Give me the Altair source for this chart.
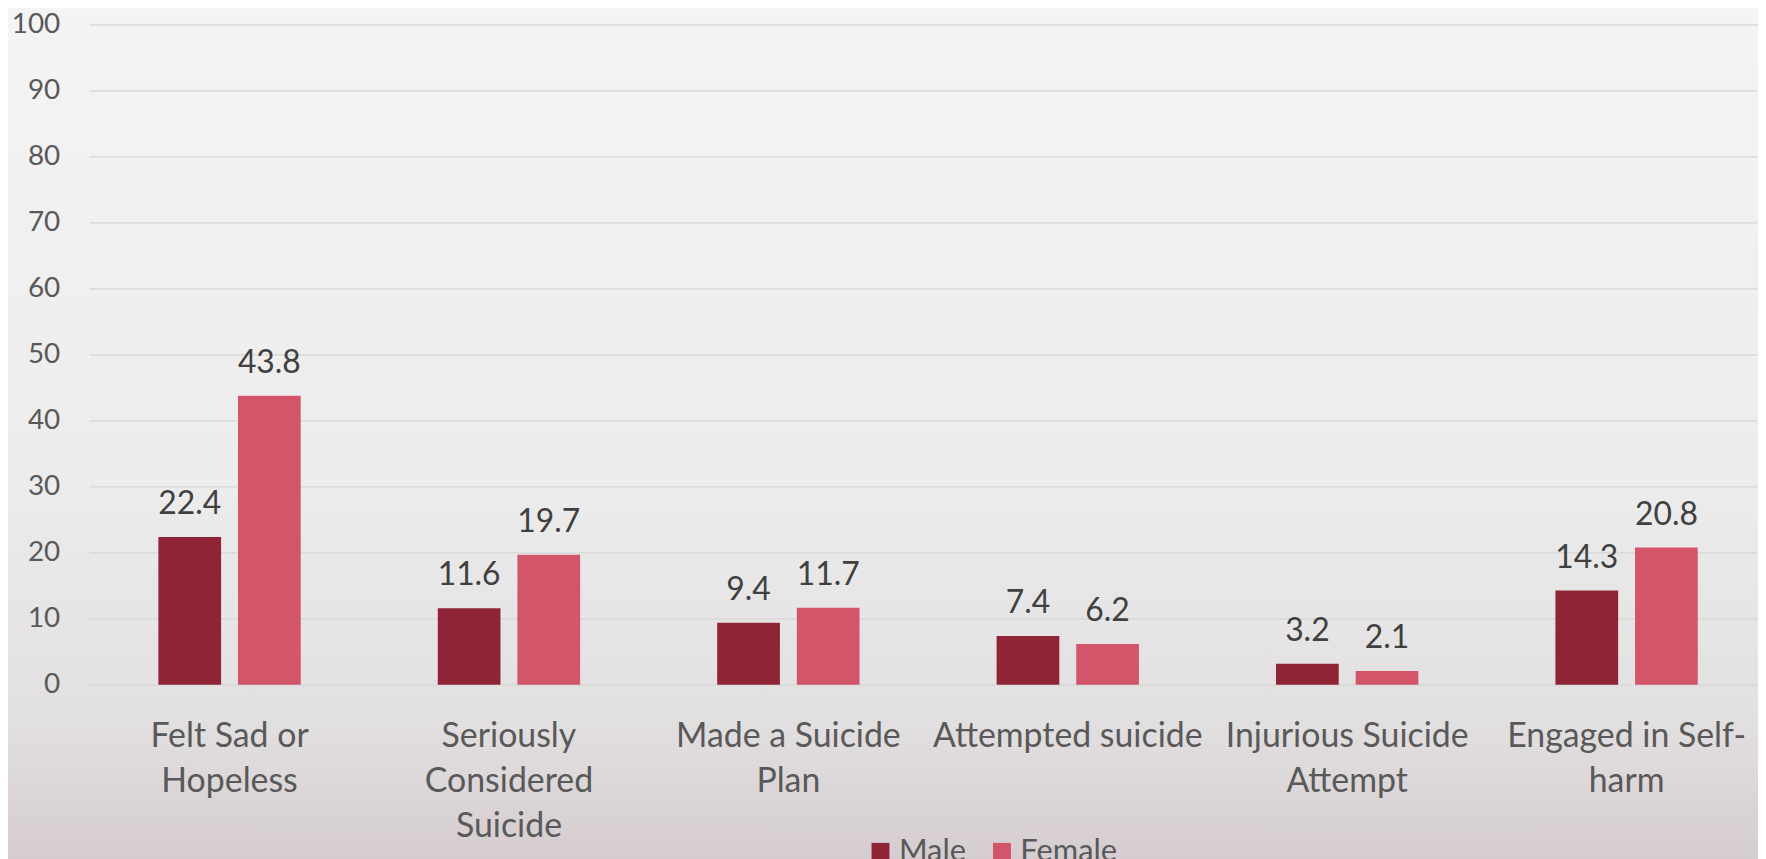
import altair as alt
import pandas as pd

# ---- data -------------------------------------------------------------
categories = [
    "Felt Sad or|Hopeless",
    "Seriously|Considered|Suicide",
    "Made a Suicide|Plan",
    "Attempted suicide",
    "Injurious Suicide|Attempt",
    "Engaged in Self-|harm",
]
groups = ["Male", "Female"]
male_values = [22.4, 11.6, 9.4, 7.4, 3.2, 14.3]
female_values = [43.8, 19.7, 11.7, 6.2, 2.1, 20.8]
y_ticks = [0, 10, 20, 30, 40, 50, 60, 70, 80, 90, 100]
colors = ["#8f2436", "#d3556a"]

rows = []
for c, m, f in zip(categories, male_values, female_values):
    rows.append({"category": c, "group": "Male", "value": m})
    rows.append({"category": c, "group": "Female", "value": f})
df = pd.DataFrame(rows)
grid_df = pd.DataFrame({"tick": y_ticks})

FONT = "Lato"
W, H = 1676, 663

x_enc = alt.X(
    "category:N",
    sort=categories,
    scale=alt.Scale(paddingInner=0.4906, paddingOuter=0.2308, align=0.533, round=False),
    axis=alt.Axis(
        title=None,
        labelAngle=0,
        labelExpr="split(datum.label, '|')",
        labelFont=FONT,
        labelFontSize=34,
        labelColor="#595959",
        labelPadding=35,
        labelLineHeight=45,
        labelBaseline="top",
        ticks=False,
        domain=False,
        grid=False,
        labelLimit=400,
        zindex=1,
    ),
)
xoff_enc = alt.XOffset(
    "group:N",
    sort=groups,
    scale=alt.Scale(paddingInner=0.2125, paddingOuter=0, round=False),
)
y_scale = alt.Scale(domain=[0, 100], nice=False)
y_enc = alt.Y(
    "value:Q",
    scale=y_scale,
    axis=alt.Axis(
        title=None,
        values=y_ticks,
        labelFont=FONT,
        labelFontSize=28,
        labelColor="#595959",
        labelPadding=30,
        ticks=False,
        domain=False,
        grid=False,
        zindex=1,
    ),
)

background = alt.Chart(alt.Data(values=[{}])).mark_rect(
    color=alt.Gradient(
        gradient="linear",
        stops=[
            alt.GradientStop(color="#f4f4f5", offset=0),
            alt.GradientStop(color="#ececec", offset=0.55),
            alt.GradientStop(color="#e2dfe0", offset=0.82),
            alt.GradientStop(color="#d3c9cd", offset=1),
        ],
        x1=0, x2=0, y1=0, y2=1,
    )
).encode(
    x=alt.value(-100),
    x2=alt.value(W + 20),
    y=alt.value(-30),
    y2=alt.value(H + 200),
)

gridlines = alt.Chart(grid_df).mark_rule(color="#d6d6d6", strokeWidth=1.3).encode(
    y=alt.Y("tick:Q", scale=y_scale),
    x=alt.value(0),
    x2=alt.value(W),
)

bars = alt.Chart(df).mark_bar().encode(
    x=x_enc,
    xOffset=xoff_enc,
    y=y_enc,
    color=alt.Color(
        "group:N",
        sort=groups,
        scale=alt.Scale(domain=groups, range=colors),
        legend=alt.Legend(
            title=None,
            orient="none",
            direction="horizontal",
            legendX=779,
            legendY=815,
            symbolType="square",
            symbolSize=324,
            symbolStrokeWidth=0,
            symbolOpacity=1,
            labelFont=FONT,
            labelFontSize=31,
            labelColor="#595959",
            labelOffset=3,
            columnPadding=20,
            padding=0,
        ),
    ),
)

labels = alt.Chart(df).mark_text(
    font=FONT,
    fontSize=32,
    color="#404040",
    baseline="alphabetic",
    dy=-23,
).encode(
    x=alt.X("category:N", sort=categories),
    xOffset=alt.XOffset("group:N", sort=groups),
    y=alt.Y("value:Q"),
    text=alt.Text("value:Q", format=".1f"),
)

chart = (
    alt.layer(background, gridlines, bars, labels)
    .properties(
        width=W,
        height=H,
        autosize=alt.AutoSizeParams(type="none"),
        padding={"left": 82, "top": 15, "right": 0, "bottom": 173},
        background="#eeeeee",
    )
    .configure_view(stroke=None)
)

chart.save("out.html", embed_options={"renderer": "svg", "actions": False})
